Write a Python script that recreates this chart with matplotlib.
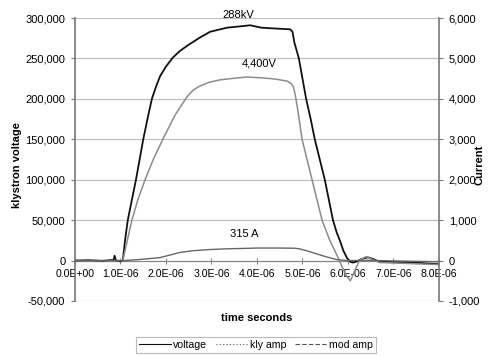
import matplotlib
matplotlib.use("Agg")
import matplotlib.pyplot as plt
from matplotlib.lines import Line2D
from matplotlib.ticker import FuncFormatter, MultipleLocator

plt.rcParams['font.family'] = ['Liberation Sans', 'DejaVu Sans']

# time in microseconds (converted to seconds below)
volt_t_us = [0.0, 0.3, 0.6, 0.85, 0.87, 0.9, 1.0, 1.05, 1.1, 1.16, 1.25, 1.34, 1.42, 1.5, 1.6, 1.69,
             1.78, 1.87, 2.0, 2.15, 2.3, 2.5, 2.75, 2.97, 3.34, 3.6, 3.85, 4.1, 4.4, 4.73, 4.78, 4.82,
             4.92, 5.0, 5.08, 5.18, 5.27, 5.38, 5.49, 5.58, 5.67, 5.75, 5.82, 5.9, 5.98, 6.05, 6.11,
             6.2, 6.3, 6.44, 6.55, 6.65, 6.8, 7.2, 7.6, 8.0]
volt_v = [0, 500, -500, 1000, 6000, 0, -1000, 0, 25000, 50000, 75000, 100000, 125000, 150000, 177000, 200000,
          215000, 228000, 240000, 251000, 259000, 267000, 276000, 283000, 288000, 289500, 291000, 288000, 287000, 286000, 283000, 270000,
          250000, 225000, 200000, 175000, 150000, 125000, 100000, 75000, 50000, 35000, 25000, 12000, 3000, -1500, -2500,
          -1000, 2000, 4000, 2000, -500, -1500, -2000, -3000, -4500]

kly_t_us = [0.0, 0.5, 1.0, 1.05, 1.2, 1.4, 1.6, 1.87, 2.1, 2.3, 2.6, 2.97, 3.3, 3.7, 4.0,
            4.5, 4.84, 4.95, 5.1, 5.3, 5.5, 5.75, 6.0, 6.5, 7.0, 8.0]
kly_i = [0, 0, 0, 0, 10, 25, 45, 75, 140, 200, 245, 273, 290, 300, 310,
         310, 305, 285, 240, 170, 100, 25, 0, 5, -10, -30]

mod_t_us = [0.0, 0.5, 1.0, 1.05, 1.15, 1.25, 1.38, 1.54, 1.72, 1.93, 2.2, 2.46, 2.6, 2.75, 2.95, 3.19, 3.5, 3.78,
            4.1, 4.4, 4.66, 4.75, 4.8, 4.84, 4.9, 4.99, 5.1, 5.21, 5.32, 5.43, 5.6, 5.75, 5.85,
            5.95, 6.05, 6.15, 6.25, 6.4, 6.55, 6.7, 7.0, 7.5, 8.0]
mod_v = [0, 0, 0, 0, 500, 1000, 1500, 2000, 2500, 3000, 3600, 4050, 4220, 4320, 4410, 4470, 4510, 4540,
         4520, 4490, 4440, 4380, 4300, 4100, 3700, 3000, 2500, 2000, 1500, 1000, 500, 150, -100,
         -350, -500, -250, 0, 100, 20, -50, -60, -80, -100]

xtick_labels = ["0.0E+00", "1.0E-06", "2.0E-06", "3.0E-06", "4.0E-06",
                "5.0E-06", "6.0E-06", "7.0E-06", "8.0E-06"]

volt_t = [t * 1e-6 for t in volt_t_us]
kly_t = [t * 1e-6 for t in kly_t_us]
mod_t = [t * 1e-6 for t in mod_t_us]
xticks = [i * 1e-6 for i in range(len(xtick_labels))]

fig = plt.figure(figsize=(4.89, 3.56), dpi=100)
ax = fig.add_axes([75/489, 1-301/356, (439-75)/489, (301-18)/356])
ax2 = ax.twinx()

ax.set_xlim(0, 8e-6)
ax.set_ylim(-50000, 300000)
ax2.set_ylim(-1000, 6000)

ax.yaxis.set_major_locator(MultipleLocator(50000))
ax2.yaxis.set_major_locator(MultipleLocator(1000))
ax.yaxis.set_major_formatter(FuncFormatter(lambda v, p: f"{int(v):,}"))
ax2.yaxis.set_major_formatter(FuncFormatter(lambda v, p: f"{int(v):,}"))
ax.grid(axis='y', color='#c0c0c0', linewidth=0.9)
ax.set_axisbelow(True)

ax.plot(volt_t, volt_v, color='#111111', linewidth=1.3, zorder=3)
ax2.plot(mod_t, mod_v, color='#8c8c8c', linewidth=1.1, zorder=2)
ax2.plot(kly_t, kly_i, color='#666666', linewidth=1.0, zorder=2)

ax.spines['top'].set_visible(False)
ax2.spines['top'].set_visible(False)
ax.spines['bottom'].set_position(('data', 0))
ax.spines['bottom'].set_color('#888888')
ax2.spines['bottom'].set_visible(False)
ax.spines['left'].set_color('#777777')
ax.spines['left'].set_linewidth(1.2)
ax2.spines['right'].set_color('#777777')
ax2.spines['right'].set_linewidth(1.2)
ax.spines['right'].set_visible(False)
ax2.spines['left'].set_visible(False)

ax.set_xticks(xticks)
ax.set_xticklabels(xtick_labels)
ax.tick_params(axis='x', direction='inout', length=4, color='#888888', labelsize=7.6, pad=4)
ax.tick_params(axis='y', direction='out', length=3, color='#777777', labelsize=8, pad=4)
ax2.tick_params(axis='y', direction='out', length=3, color='#777777', labelsize=8, pad=4)

fig.text(17/489, 1-165/356, "klystron voltage", fontsize=8, fontweight='bold',
         rotation=90, ha='center', va='center')
fig.text(480/489, 1-165/356, "Current", fontsize=8, fontweight='bold',
         rotation=90, ha='center', va='center')
fig.text(257/489, 1-318/356, "time seconds", fontsize=8, fontweight='bold',
         ha='center', va='center')

ax.text(3.6e-6, 297000, "288kV", fontsize=8, ha='center', va='bottom')
ax.text(4.05e-6, 244000, "4,400V", fontsize=8, ha='center', va='center')
ax.text(3.71e-6, 33000, "315 A", fontsize=8, ha='center', va='center')

handles = [Line2D([], [], color='#111111', linestyle='-', linewidth=0.8),
           Line2D([], [], color='#555555', linestyle=(0, (1, 2)), linewidth=0.8),
           Line2D([], [], color='#555555', linestyle=(0, (4, 2)), linewidth=0.8)]
leg = fig.legend(handles, ["voltage", "kly amp", "mod amp"], ncol=3,
                 loc='center', bbox_to_anchor=(256/489, 1-345/356), fontsize=7.6,
                 frameon=True, fancybox=False, edgecolor='#aaaaaa',
                 handlelength=3.0, handletextpad=0.25, columnspacing=0.8,
                 borderpad=0.25)
leg.get_frame().set_linewidth(0.8)

fig.savefig("out.png", dpi=100)
